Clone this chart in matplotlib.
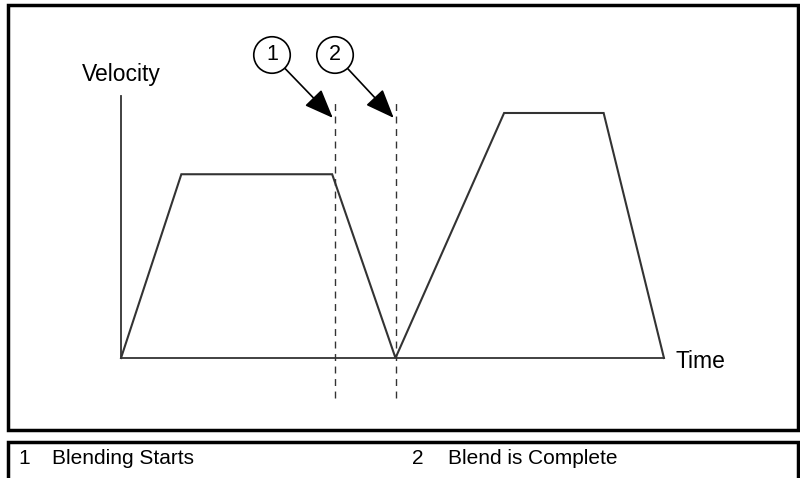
import matplotlib.pyplot as plt
from matplotlib.patches import Rectangle

# velocity profile (arbitrary units)
time = [0, 1.0, 3.5, 4.55, 6.35, 8.0, 9.0]
velocity = [0, 75, 75, 0, 100, 100, 0]

# blend markers
marker_labels = ["1", "2"]
marker_times = [3.55, 4.56]
legend_items = ["Blending Starts", "Blend is Complete"]

W, H = 800, 478
plt.rcParams["font.family"] = ["Liberation Sans", "DejaVu Sans"]

fig = plt.figure(figsize=(W / 100, H / 100), dpi=100)
ax = fig.add_axes([0, 0, 1, 1])
ax.set_xlim(-2.006, 11.255)
ax.set_ylim(-48.98, 146.12)
ax.axis("off")


def fx(px):
    return px / W


def fy(py):
    return 1 - py / H


# outer frames
fig.patches.append(Rectangle((fx(8), fy(430)), fx(798) - fx(8), fy(5) - fy(430),
                             transform=fig.transFigure, fill=False, lw=2.5, ec="black"))
fig.patches.append(Rectangle((fx(8), fy(490)), fx(798) - fx(8), fy(442) - fy(490),
                             transform=fig.transFigure, fill=False, lw=2.5, ec="black"))

# axes lines
ax.plot([0, 0], [0, 107], color="#333333", lw=1.3)
ax.plot([0, 9], [0, 0], color="#333333", lw=1.3)

# profile
ax.plot(time, velocity, color="#333333", lw=1.5, solid_joinstyle="miter")

# dashed blend lines + callouts
circle_pos = [(272, 55), (335, 55)]
for lab, t, (cx, cy) in zip(marker_labels, marker_times, circle_pos):
    ax.plot([t, t], [-16.5, 106], color="#333333", lw=1, ls=(0, (5, 4)))
    ax.annotate(lab, xy=(t - 0.04, 98), xycoords="data",
                xytext=(fx(cx), fy(cy)), textcoords="figure fraction",
                ha="center", va="center", fontsize=15.5,
                bbox=dict(boxstyle="circle,pad=0.36", fc="white", ec="black", lw=1.2),
                arrowprops=dict(arrowstyle="-|>,head_length=1.0,head_width=0.4",
                                mutation_scale=18, color="black", lw=1.2,
                                shrinkA=0, shrinkB=0))

fig.text(fx(82), fy(75), "Velocity", fontsize=16.5, ha="left", va="center")
fig.text(fx(676), fy(361), "Time", fontsize=16.5, ha="left", va="center")

# legend strip
legend_x = [(18, 52), (412, 448)]
for lab, item, (nx, tx) in zip(marker_labels, legend_items, legend_x):
    fig.text(fx(nx), fy(458), lab, fontsize=15, ha="left", va="center")
    fig.text(fx(tx), fy(458), item, fontsize=15, ha="left", va="center")

plt.savefig("out.png", dpi=100)
